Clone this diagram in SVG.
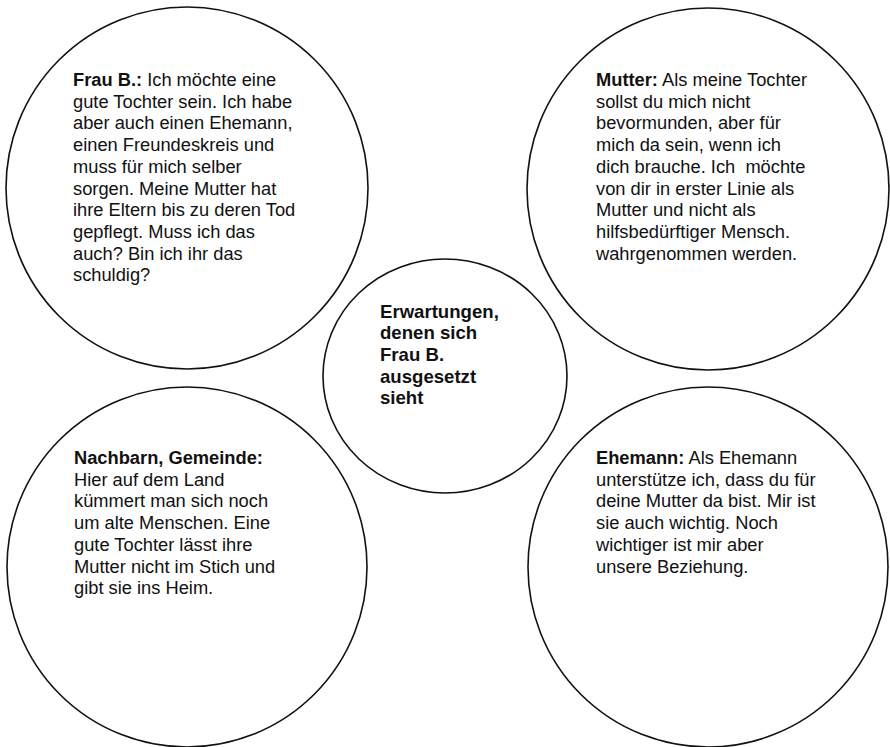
<svg xmlns="http://www.w3.org/2000/svg" width="890" height="747" viewBox="0 0 890 747">
<style>
.bub{fill:#fff;stroke:#111;stroke-width:1.6}
.t{font-family:"Liberation Sans",Arial,sans-serif;font-size:18.3px;fill:#111}
.b{font-weight:bold}
.c{font-family:"Liberation Sans",Arial,sans-serif;font-size:18.6px;font-weight:bold;fill:#111}
</style>
<rect width="890" height="747" fill="#fff"/>
<g id="connectors"/>
<g id="frau-b">
<circle class="bub" cx="187" cy="188" r="181"/>
<text class="t">
<tspan x="73" y="86"><tspan class="b">Frau B.:</tspan> Ich möchte eine</tspan>
<tspan x="73" y="107.7">gute Tochter sein. Ich habe</tspan>
<tspan x="73" y="129.4">aber auch einen Ehemann,</tspan>
<tspan x="73" y="151.1">einen Freundeskreis und</tspan>
<tspan x="73" y="172.8">muss für mich selber</tspan>
<tspan x="73" y="194.5">sorgen. Meine Mutter hat</tspan>
<tspan x="73" y="216.2">ihre Eltern bis zu deren Tod</tspan>
<tspan x="73" y="237.9">gepflegt. Muss ich das</tspan>
<tspan x="73" y="259.6">auch? Bin ich ihr das</tspan>
<tspan x="73" y="281.3">schuldig?</tspan>
</text>
</g>
<g id="mutter">
<circle class="bub" cx="708" cy="189" r="181"/>
<text class="t">
<tspan x="596" y="86"><tspan class="b">Mutter:</tspan> Als meine Tochter</tspan>
<tspan x="596" y="107.7">sollst du mich nicht</tspan>
<tspan x="596" y="129.4">bevormunden, aber für</tspan>
<tspan x="596" y="151.1">mich da sein, wenn ich</tspan>
</text>
<text class="t" x="596" y="172.8" xml:space="preserve">dich brauche. Ich  möchte</text>
<text class="t">
<tspan x="596" y="194.5">von dir in erster Linie als</tspan>
<tspan x="596" y="216.2">Mutter und nicht als</tspan>
<tspan x="596" y="237.9">hilfsbedürftiger Mensch.</tspan>
<tspan x="596" y="259.6">wahrgenommen werden.</tspan>
</text>
</g>
<g id="nachbarn">
<circle class="bub" cx="187" cy="567" r="180"/>
<text class="t">
<tspan x="74" y="464" class="b">Nachbarn, Gemeinde:</tspan>
<tspan x="74" y="485.7">Hier auf dem Land</tspan>
<tspan x="74" y="507.4">kümmert man sich noch</tspan>
<tspan x="74" y="529.1">um alte Menschen. Eine</tspan>
<tspan x="74" y="550.8">gute Tochter lässt ihre</tspan>
<tspan x="74" y="572.5">Mutter nicht im Stich und</tspan>
<tspan x="74" y="594.2">gibt sie ins Heim.</tspan>
</text>
</g>
<g id="ehemann">
<circle class="bub" cx="708" cy="567" r="180"/>
<text class="t">
<tspan x="596" y="464"><tspan class="b">Ehemann:</tspan> Als Ehemann</tspan>
<tspan x="596" y="485.7">unterstütze ich, dass du für</tspan>
<tspan x="596" y="507.4">deine Mutter da bist. Mir ist</tspan>
<tspan x="596" y="529.1">sie auch wichtig. Noch</tspan>
<tspan x="596" y="550.8">wichtiger ist mir aber</tspan>
<tspan x="596" y="572.5">unsere Beziehung.</tspan>
</text>
</g>
<g id="erwartungen">
<ellipse class="bub" cx="445" cy="376" rx="122" ry="117"/>
<text class="c">
<tspan x="380" y="317.5">Erwartungen,</tspan>
<tspan x="380" y="339.2">denen sich</tspan>
<tspan x="380" y="360.9">Frau B.</tspan>
<tspan x="380" y="382.6">ausgesetzt</tspan>
<tspan x="380" y="404.3">sieht</tspan>
</text>
</g>
</svg>
